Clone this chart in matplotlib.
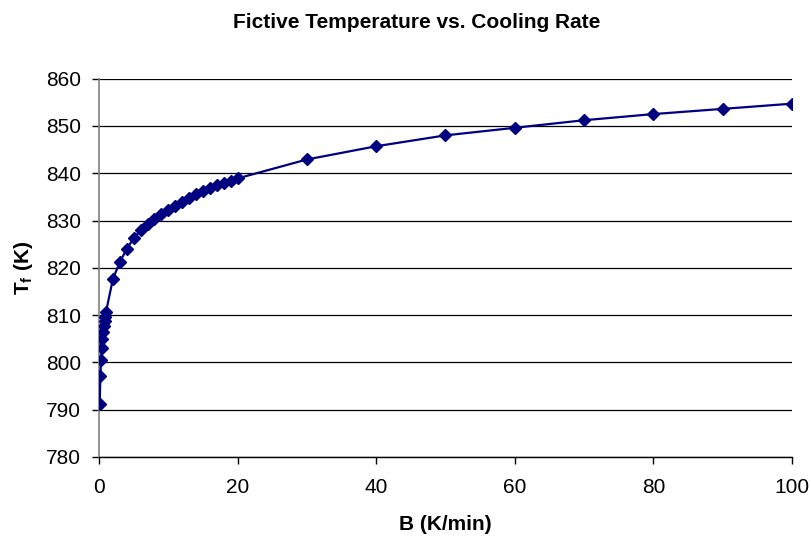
import matplotlib
matplotlib.use("Agg")
import matplotlib.pyplot as plt

plt.rcParams['font.family'] = ['Liberation Sans', 'DejaVu Sans']
plt.rcParams['mathtext.fontset'] = 'custom'
plt.rcParams['mathtext.rm'] = 'Liberation Sans'
plt.rcParams['mathtext.bf'] = 'Liberation Sans:bold'

# Data
cooling_rate = [0.1, 0.2, 0.3, 0.4, 0.5, 0.6, 0.7, 0.8, 0.9, 1.0,
                2, 3, 4, 5, 6, 7, 8, 9, 10, 11, 12, 13, 14, 15, 16, 17, 18, 19, 20,
                30, 40, 50, 60, 70, 80, 90, 100]
fictive_temp = [791.2, 797.1, 800.5, 803.1, 805.0, 806.5, 807.7, 808.7, 809.6, 810.6,
                817.6, 821.2, 824.0, 826.2, 827.9, 829.2, 830.3, 831.3, 832.3, 833.1,
                834.0, 834.8, 835.5, 836.2, 836.8, 837.4, 837.9, 838.4, 838.9,
                842.9, 845.7, 848.0, 849.6, 851.2, 852.5, 853.6, 854.7]

x_ticks = [0, 20, 40, 60, 80, 100]
y_ticks = [780, 790, 800, 810, 820, 830, 840, 850, 860]

fig = plt.figure(figsize=(8.12, 5.38), dpi=100)
ax = fig.add_axes([99/812, 1 - 457/538, (792 - 99)/812, (457 - 78.6)/538])

ax.plot(cooling_rate, fictive_temp, color='#000080', linewidth=1.6,
        marker='D', markersize=6, markerfacecolor='#000080',
        markeredgecolor='#000080', zorder=3)

ax.set_xlim(0, 100)
ax.set_ylim(780, 860)
ax.set_xticks(x_ticks)
ax.set_yticks(y_ticks)
ax.tick_params(axis='both', labelsize=15, direction='out', length=5,
               width=1, color='#000000')
ax.tick_params(axis='y', pad=8)
ax.tick_params(axis='x', pad=10)

ax.grid(axis='y', color='#000000', linewidth=0.9, zorder=0)
ax.set_axisbelow(True)
for s in ['top', 'right']:
    ax.spines[s].set_visible(False)
ax.spines['left'].set_color('#808080')
ax.spines['left'].set_linewidth(1.2)
ax.spines['bottom'].set_color('#000000')
ax.spines['bottom'].set_linewidth(1.0)

fig.text(0.5 * (230 + 603) / 812, 1 - 22/538, 'Fictive Temperature vs. Cooling Rate',
         ha='center', va='center', fontsize=15, fontweight='bold')
fig.text(445/812, 1 - 525/538, 'B (K/min)', ha='center', va='center',
         fontsize=15, fontweight='bold')
fig.text(24/812, 1 - 268/538, r'$\mathbf{T_f}$ (K)', ha='center', va='center',
         rotation=90, fontsize=15, fontweight='bold')

fig.savefig('out.png', dpi=100)
